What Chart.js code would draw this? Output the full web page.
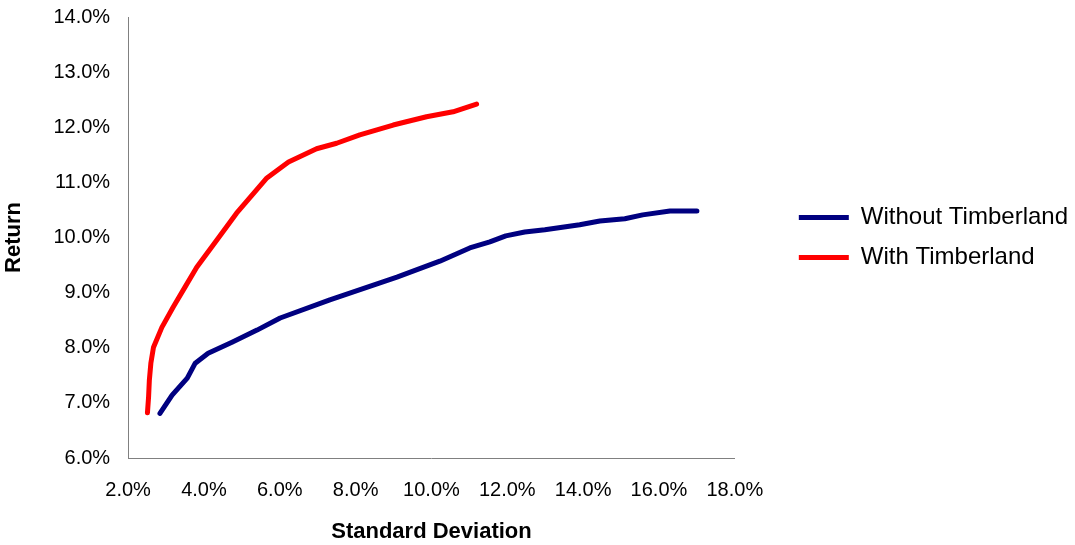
<!DOCTYPE html>
<html lang="en">
<head>
  <meta charset="UTF-8" />
  <title>Efficient Frontier</title>
  <script src="https://cdn.jsdelivr.net/npm/chart.js"></script>
  <style>
    html, body { margin: 0; padding: 0; background: #fff; }
    #wrap { width: 1075px; height: 545px; }
  </style>
</head>
<body>
  <div id="wrap"><canvas id="frontier"></canvas></div>

  <script>
    // standard deviation (%) and return (%)
    const withoutSd  = [2.84, 3.16, 3.56, 3.77, 4.11, 4.74, 5.40, 6.01, 7.32, 9.09, 10.22, 11.01, 11.54, 11.96, 12.46, 12.99, 13.91, 14.44, 15.10, 15.57, 16.29, 17.00];
    const withoutRet = [6.81, 7.14, 7.45, 7.72, 7.90, 8.10, 8.32, 8.54, 8.87, 9.28, 9.57, 9.81, 9.92, 10.03, 10.10, 10.14, 10.23, 10.30, 10.34, 10.41, 10.48, 10.48];

    const withSd  = [2.51, 2.54, 2.56, 2.60, 2.67, 2.89, 3.19, 3.50, 3.81, 4.38, 4.86, 5.66, 6.23, 6.97, 7.50, 8.11, 8.99, 9.87, 10.57, 11.19];
    const withRet = [6.82, 7.11, 7.41, 7.72, 8.01, 8.37, 8.74, 9.10, 9.46, 9.99, 10.44, 11.08, 11.37, 11.61, 11.71, 11.86, 12.04, 12.19, 12.28, 12.42];

    const seriesNames = ['Without Timberland', 'With Timberland'];
    const xTitle = 'Standard Deviation';
    const yTitle = 'Return';

    const pts = (xs, ys) => xs.map((x, i) => ({ x: x, y: ys[i] }));
    const pct = v => v.toFixed(1) + '%';

    const FONT = '"Liberation Sans", Arial, sans-serif';
    const LEGEND_SHIFT = 48;   // how far the legend is pushed right
    const PLOT_GAP = 45;       // room kept free right of the plot

    // push the legend away from the plot, Excel style
    const legendGap = {
      id: 'legendGap',
      afterLayout(chart) {
        const lg = chart.legend;
        if (!lg) return;
        lg.left += LEGEND_SHIFT;
        lg.right += LEGEND_SHIFT;
      }
    };

    new Chart(document.getElementById('frontier'), {
      type: 'scatter',
      data: {
        datasets: [
          {
            label: seriesNames[0],
            data: pts(withoutSd, withoutRet),
            showLine: true,
            borderColor: '#000080',
            backgroundColor: '#000080',
            borderWidth: 5,
            pointRadius: 0,
            borderCapStyle: 'round',
            borderJoinStyle: 'round'
          },
          {
            label: seriesNames[1],
            data: pts(withSd, withRet),
            showLine: true,
            borderColor: '#ff0000',
            backgroundColor: '#ff0000',
            borderWidth: 5,
            pointRadius: 0,
            borderCapStyle: 'round',
            borderJoinStyle: 'round'
          }
        ]
      },
      plugins: [legendGap],
      options: {
        responsive: true,
        maintainAspectRatio: false,
        animation: false,
        layout: { padding: { top: 0, left: 1, right: -5, bottom: 0 } },
        plugins: {
          tooltip: { enabled: false },
          legend: {
            position: 'right',
            fullSize: false,
            maxWidth: 330,
            labels: {
              usePointStyle: true,
              pointStyle: 'line',
              pointStyleWidth: 50,
              color: '#000',
              font: { family: FONT, size: 24 },
              padding: 16
            }
          }
        },
        scales: {
          x: {
            type: 'linear',
            min: 2,
            max: 18,
            grid: { display: false, drawTicks: false },
            border: { color: '#808080', width: 1 },
            ticks: {
              stepSize: 2,
              padding: 20,
              color: '#000',
              font: { family: FONT, size: 20 },
              callback: v => pct(v)
            },
            title: {
              display: true,
              text: xTitle,
              color: '#000',
              font: { family: FONT, size: 22, weight: 'bold' },
              padding: { top: 10, bottom: 0 }
            },
            afterFit: s => {
              // fixed band under the plot, and room for the shifted legend
              const lg = s.chart.legend;
              s.height = 87;
              s.paddingRight = (lg ? lg.width : 0) + PLOT_GAP;
            }
          },
          y: {
            min: 6,
            max: 14,
            grid: { display: false, drawTicks: false },
            border: { color: '#808080', width: 1 },
            ticks: {
              stepSize: 1,
              padding: 18,
              color: '#000',
              font: { family: FONT, size: 20 },
              callback: v => pct(v)
            },
            title: {
              display: true,
              text: yTitle,
              color: '#000',
              font: { family: FONT, size: 22, weight: 'bold' },
              padding: { top: 0, bottom: 8 }
            },
            afterFit: s => {
              s.paddingTop = 17;
              s.paddingBottom = 0;
            }
          }
        }
      }
    });
  </script>
</body>
</html>
